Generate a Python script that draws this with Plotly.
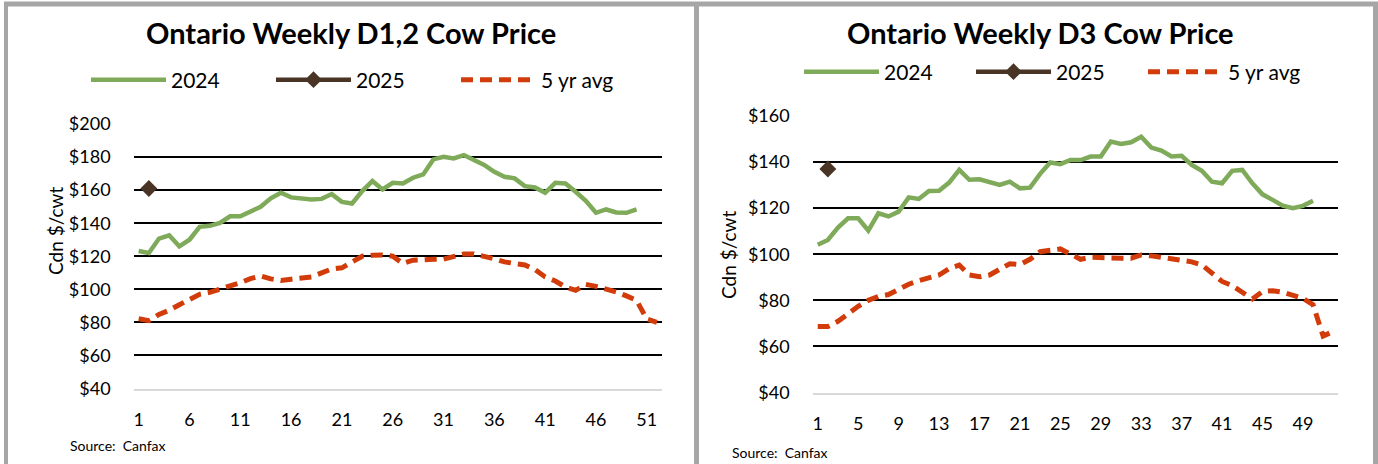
import plotly.graph_objects as go

W, H = 1378, 464

weeks = list(range(1, 53))

left_title = "Ontario Weekly D1,2 Cow Price"
right_title = "Ontario Weekly D3 Cow Price"

left_2024 = [123.2, 122, 130.7, 132.7, 126, 130, 137.8, 138.4, 140.2, 144.2,
             144.2, 146.9, 149.9, 155, 158.4, 155.6, 155, 154.3, 154.7, 157.6,
             152.9, 151.9, 159.4, 165.5, 160.4, 164.4, 164, 167.5, 169.5, 178.6,
             180.2, 179.2, 181.2, 178.2, 175.2, 171.1, 168.1, 167.1, 162.4, 161.6,
             158.4, 164.4, 164, 159, 153.5, 146.3, 148.3, 146.5, 146.3, 148.3]
left_2025 = [None, 161]
left_5yr = [82.2, 81, 84.8, 87.3, 90.7, 94.1, 97, 98.2, 100, 102.4,
            104, 106.5, 108.1, 106.3, 105.3, 106.1, 106.5, 107.5, 109.9, 112.3,
            113, 116.5, 120, 120.6, 120.8, 120, 115.6, 117.6, 118.2, 118.2,
            118.2, 119.6, 121.4, 121.4, 120.2, 118.4, 116.6, 115.8, 114.7, 111.9,
            107.5, 105, 101.4, 99.4, 103, 101.8, 100.2, 98.4, 96, 93.3,
            82, 80]

right_2024 = [104.1, 106.2, 111.6, 115.6, 115.6, 110.3, 117.8, 116.4, 118.5, 124.7,
              124, 127.5, 127.6, 131.1, 136.6, 132.3, 132.5, 131.1, 130.1, 131.5,
              128.6, 128.9, 134.9, 139.8, 139.1, 140.9, 140.9, 142.4, 142.4, 148.9,
              147.9, 148.6, 151, 146.3, 145, 142.4, 142.7, 138.8, 136.2, 131.5,
              130.8, 136.2, 136.6, 130.8, 126, 123.6, 121.1, 120, 121, 123.2]
right_2025 = [None, 137]
right_5yr = [68.6, 68.6, 70.9, 74.5, 77.4, 80, 81.7, 82.5, 84.8, 87,
             88.5, 90, 91, 93.8, 95.3, 91, 90.2, 91, 93.5, 95.9,
             95.5, 97.8, 101.1, 101.6, 102.3, 100.1, 97.8, 98.7, 98.4, 98.4,
             98.3, 98.3, 99.7, 99.3, 98.7, 98, 97.4, 96.7, 95.4, 91.8,
             88.2, 86.4, 83.4, 80.6, 83.8, 84.2, 83.5, 82.4, 80.8, 78.1,
             64.5, 66.5]

left_yticks = [40, 60, 80, 100, 120, 140, 160, 180, 200]
right_yticks = [40, 60, 80, 100, 120, 140, 160]
left_xticks = [1, 6, 11, 16, 21, 26, 31, 36, 41, 46, 51]
right_xticks = [1, 5, 9, 13, 17, 21, 25, 29, 33, 37, 41, 45, 49]

GREEN = "#7EAA5A"
BROWN = "#4A3426"
RED = "#D23C0A"
FONT = "Lato"


def px(x):
    return x / W


def py(y):
    return 1 - y / H


fig = go.Figure()

for xa, ya, s24, s25, s5, leg in [("x", "y", left_2024, left_2025, left_5yr, "legend"),
                                  ("x2", "y2", right_2024, right_2025, right_5yr, "legend2")]:
    fig.add_trace(go.Scatter(x=weeks[:len(s24)], y=s24, name="2024", mode="lines",
                             line=dict(color=GREEN, width=4.5), xaxis=xa, yaxis=ya, legend=leg))
    fig.add_trace(go.Scatter(x=weeks[:len(s25)], y=s25, name="2025", mode="lines+markers",
                             line=dict(color=BROWN, width=4.5),
                             marker=dict(symbol="diamond", size=13, color=BROWN),
                             xaxis=xa, yaxis=ya, legend=leg))
    fig.add_trace(go.Scatter(x=weeks[:len(s5)], y=s5, name="5 yr avg", mode="lines",
                             line=dict(color=RED, width=5, dash="12px,7px"),
                             xaxis=xa, yaxis=ya, legend=leg))

axis_common = dict(showgrid=False, zeroline=False, ticks="", showline=True, automargin=False,
                   linecolor="#D9D9D9", linewidth=2, tickfont=dict(family=FONT, size=18, color="#000"),
                   range=[0.5, 52.5], ticklabelstandoff=14)
yaxis_common = dict(showgrid=True, gridcolor="#000000", gridwidth=1.6, zeroline=False, ticks="",
                    showline=False, automargin=False, tickfont=dict(family=FONT, size=18, color="#000"),
                    ticklabelstandoff=22)

fig.update_layout(
    width=W, height=H, margin=dict(l=0, r=0, t=0, b=0, autoexpand=False),
    paper_bgcolor="white", plot_bgcolor="white",
    font=dict(family=FONT, color="#000"),
    xaxis=dict(domain=[px(133.6), px(662)], anchor="y", tickvals=left_xticks, **axis_common),
    yaxis=dict(domain=[py(388.5), py(124)], anchor="x", range=[40, 200], tickvals=left_yticks,
               ticktext=["$%d" % v for v in left_yticks], **yaxis_common),
    xaxis2=dict(domain=[px(812.7), px(1338.3)], anchor="y2", tickvals=right_xticks, **axis_common),
    yaxis2=dict(domain=[py(392.5), py(116)], anchor="x2", range=[40, 160], tickvals=right_yticks,
                ticktext=["$%d" % v for v in right_yticks], **yaxis_common),
    legend=dict(orientation="h", x=px(86), y=py(80), xanchor="left", yanchor="middle",
                font=dict(family=FONT, size=21), itemwidth=75, entrywidth=95, entrywidthmode="pixels",
                bgcolor="rgba(0,0,0,0)", tracegroupgap=0),
    legend2=dict(orientation="h", x=px(799), y=py(72), xanchor="left", yanchor="middle",
                 font=dict(family=FONT, size=21), itemwidth=75, entrywidth=82, entrywidthmode="pixels",
                 bgcolor="rgba(0,0,0,0)", tracegroupgap=0),
    showlegend=True,
)

annotations = [
    dict(text="<b>%s</b>" % left_title, x=px(351), y=py(33), font=dict(size=29)),
    dict(text="<b>%s</b>" % right_title, x=px(1040), y=py(33), font=dict(size=29)),
    dict(text="Cdn $/cwt", x=px(56), y=py(231), textangle=-90, font=dict(size=19)),
    dict(text="Cdn $/cwt", x=px(729), y=py(255), textangle=-90, font=dict(size=19)),
    dict(text="Source:  Canfax", x=px(68), y=py(445), xanchor="left", font=dict(size=14)),
    dict(text="Source:  Canfax", x=px(730), y=py(452), xanchor="left", font=dict(size=14)),
]
for a in annotations:
    a.update(xref="paper", yref="paper", showarrow=False)
    if "xanchor" not in a:
        a["xanchor"] = "center"
    a["yanchor"] = "middle"
    a["font"].update(family=FONT, color="#000")
fig.update_layout(annotations=annotations)

GRAY = "#A6A6A6"
shapes = [
    dict(x0=px(6), x1=px(6), y0=py(H + 20), y1=py(2), width=4),
    dict(x0=px(696.5), x1=px(696.5), y0=py(H + 20), y1=py(2), width=5),
    dict(x0=px(1375.5), x1=px(1375.5), y0=py(H + 20), y1=py(2), width=5),
    dict(x0=px(4), x1=px(1378), y0=py(4), y1=py(4), width=5),
]
fig.update_layout(shapes=[dict(type="line", xref="paper", yref="paper",
                               x0=s["x0"], x1=s["x1"], y0=s["y0"], y1=s["y1"],
                               line=dict(color=GRAY, width=s["width"])) for s in shapes])

fig.write_html("out.html", config={"displayModeBar": False},
               post_script="document.body.style.margin='0';document.body.style.overflow='hidden';")
